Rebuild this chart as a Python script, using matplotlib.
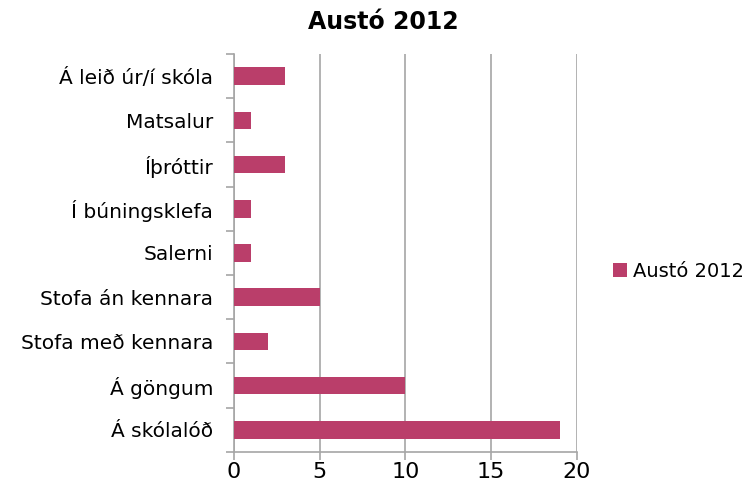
import matplotlib.pyplot as plt
import numpy as np

# data (bottom to top)
categories = ["Á skólalóð", "Á göngum", "Stofa með kennara", "Stofa án kennara",
              "Salerni", "Í búningsklefa", "Íþróttir", "Matsalur", "Á leið úr/í skóla"]
values = [19, 10, 2, 5, 1, 1, 3, 1, 3]
series_name = "Austó 2012"
x_ticks = [0, 5, 10, 15, 20]

BAR_COLOR = "#BA3E6A"
GRID = "#A6A6A6"

plt.rcParams['font.family'] = ['DejaVu Sans']

fig = plt.figure(figsize=(7.52, 4.96), dpi=100)
ax = fig.add_axes([0.311, 0.089, 0.456, 0.802])

y = np.arange(len(categories))
ax.barh(y, values, height=0.4, color=BAR_COLOR, label=series_name, zorder=3)

ax.set_xlim(0, 20)
ax.set_ylim(-0.5, len(categories) - 0.5)
ax.set_xticks(x_ticks)
ax.set_xticklabels([str(t) for t in x_ticks], fontsize=16)
ax.set_yticks(y)
ax.set_yticklabels(categories, fontsize=14.5)
ax.set_yticks(np.arange(-0.5, len(categories), 1), minor=True)

ax.tick_params(axis='y', which='major', length=0, pad=15)
ax.tick_params(axis='y', which='minor', length=6, color=GRID, width=1.2)
ax.tick_params(axis='x', length=6, color=GRID, width=1.2, pad=1)

ax.grid(axis='x', color=GRID, linewidth=1.2, zorder=0)
for s in ['top', 'right']:
    ax.spines[s].set_visible(False)
for s in ['left', 'bottom']:
    ax.spines[s].set_color(GRID)
    ax.spines[s].set_linewidth(1.2)

fig.text(0.51, 0.955, series_name, ha='center', va='center', fontsize=17, fontweight='bold')

fig.legend(loc='center left', bbox_to_anchor=(0.792, 0.453), frameon=False,
           fontsize=14, handlelength=0.7, handleheight=0.7, handletextpad=0.3)

fig.savefig("out.png", dpi=100)
